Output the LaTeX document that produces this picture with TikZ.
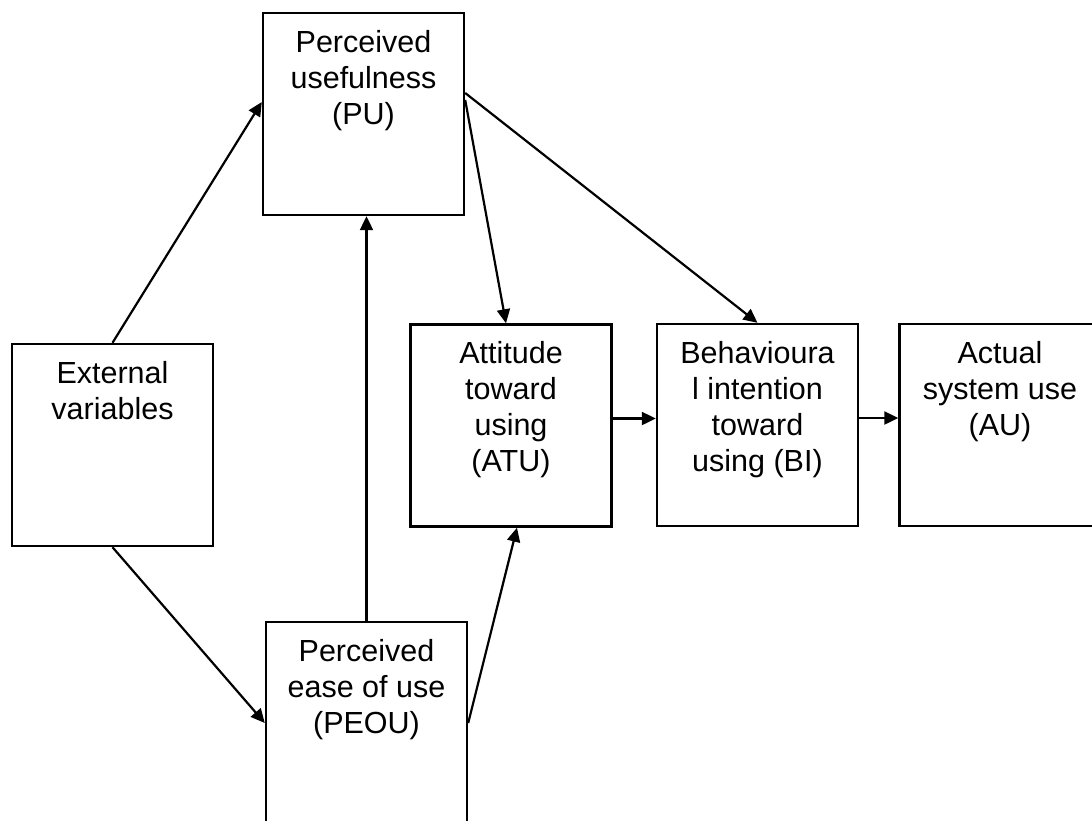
\documentclass[tikz,border=0pt]{standalone}
\usepackage{fontspec}
\setmainfont{Liberation Sans}
\usetikzlibrary{arrows.meta,calc}
\begin{document}
\begin{tikzpicture}[x=1pt,y=-1pt,
  box/.style={draw=black, line width=2.4pt, minimum width=201pt, minimum height=202pt, inner sep=0pt, fill=white},
  txt/.style={anchor=north, align=center, inner sep=0pt, font=\fontsize{30.5}{36}\selectfont},
  conn/.style={line width=2.2pt, -{Triangle[length=14pt,width=13pt]}}]
\fill[white] (0,0) rectangle (1092,820);
\useasboundingbox (0,0) rectangle (1092,820);
\clip (0,0) rectangle (1092,820);
% boxes
\node[box] (pu)   at (363.5,114) {};
\node[box] (ext)  at (112.5,445) {};
\node[box] (atu)  at (511,425.5) {};
\node[box] (bi)   at (757.5,425) {};
\node[box] (au)   at (1000,425) {};
\node[box] (peou) at (366.5,723) {};
% texts
\node[txt] (put)   at ([yshift=-18pt]pu.north)   {Perceived\\usefulness\\(PU)};
\node[txt] (extt)  at ([yshift=-18pt]ext.north)  {External\\variables};
\node[txt] (atut)  at ([yshift=-18pt]atu.north)  {Attitude\\toward\\using\\(ATU)};
\node[txt] (bit)   at ([yshift=-18pt]bi.north)   {Behavioura\\l intention\\toward\\using (BI)};
\node[txt] (aut)   at ([yshift=-18pt]au.north)   {Actual\\system use\\(AU)};
\node[txt] (peout) at ([yshift=-18pt]peou.north) {Perceived\\ease of use\\(PEOU)};
% connectors
\draw[conn] (ext.north) -- ([yshift=12pt]pu.west);
\draw[conn] (ext.south) -- (peou.west);
\draw[conn] (peou.north) -- (peou.north |- pu.south);
\draw[conn] ([yshift=21pt]pu.east) -- (bi.north);
\draw[conn] ([yshift=14pt]pu.east) -- ([xshift=-5pt]atu.north);
\draw[conn] (peou.east) -- ([xshift=6pt]atu.south);
\draw[conn] ([yshift=7pt]atu.east) -- ([yshift=7pt]atu.east -| bi.west);
\draw[conn] ([yshift=7pt]bi.east) -- ([yshift=7pt]bi.east -| au.west);
\end{tikzpicture}
\end{document}
